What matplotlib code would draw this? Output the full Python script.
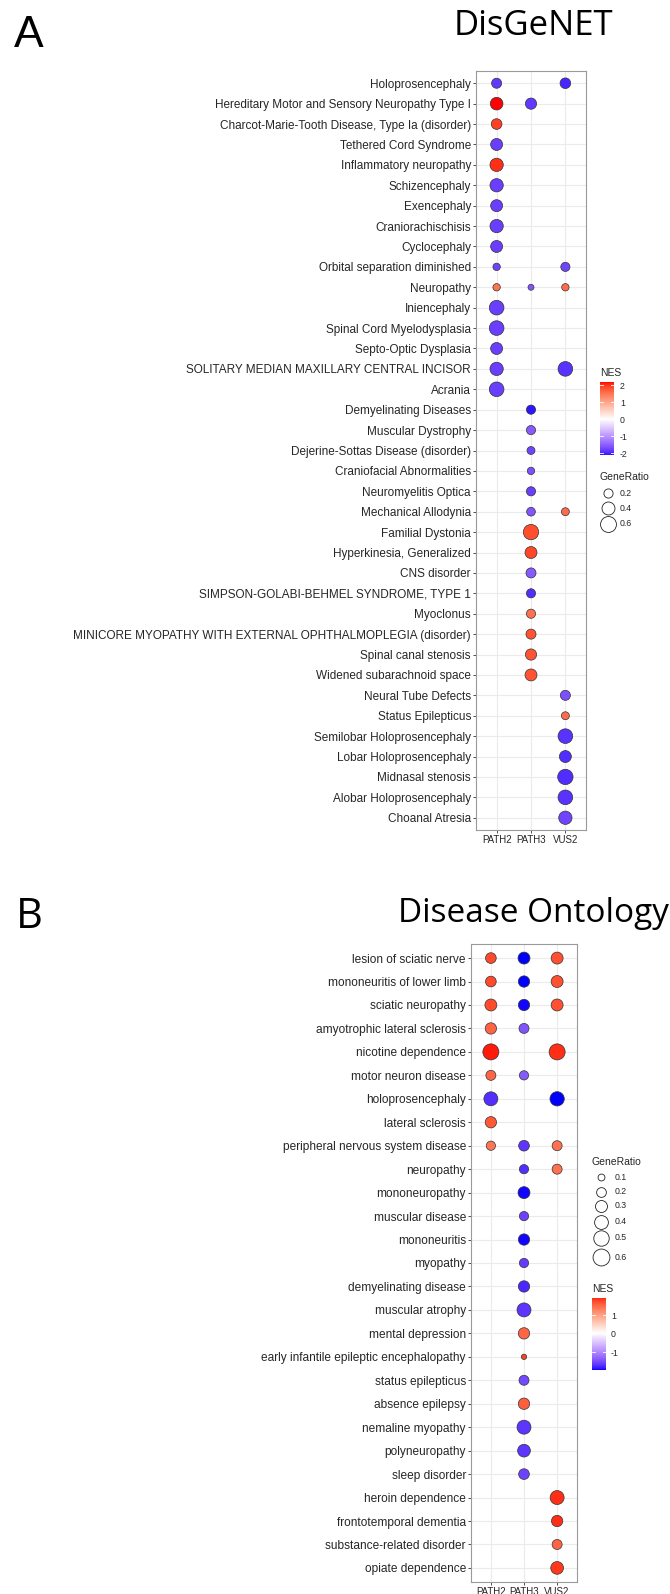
import numpy as np
import matplotlib
matplotlib.use("Agg")
import matplotlib.pyplot as plt
from matplotlib.colors import ListedColormap, Normalize

nan = np.nan

# ---------------- Panel A: DisGeNET ----------------
a_terms = [
    "Holoprosencephaly",
    "Hereditary Motor and Sensory Neuropathy Type I",
    "Charcot-Marie-Tooth Disease, Type Ia (disorder)",
    "Tethered Cord Syndrome",
    "Inflammatory neuropathy",
    "Schizencephaly",
    "Exencephaly",
    "Craniorachischisis",
    "Cyclocephaly",
    "Orbital separation diminished",
    "Neuropathy",
    "Iniencephaly",
    "Spinal Cord Myelodysplasia",
    "Septo-Optic Dysplasia",
    "SOLITARY MEDIAN MAXILLARY CENTRAL INCISOR",
    "Acrania",
    "Demyelinating Diseases",
    "Muscular Dystrophy",
    "Dejerine-Sottas Disease (disorder)",
    "Craniofacial Abnormalities",
    "Neuromyelitis Optica",
    "Mechanical Allodynia",
    "Familial Dystonia",
    "Hyperkinesia, Generalized",
    "CNS disorder",
    "SIMPSON-GOLABI-BEHMEL SYNDROME, TYPE 1",
    "Myoclonus",
    "MINICORE MYOPATHY WITH EXTERNAL OPHTHALMOPLEGIA (disorder)",
    "Spinal canal stenosis",
    "Widened subarachnoid space",
    "Neural Tube Defects",
    "Status Epilepticus",
    "Semilobar Holoprosencephaly",
    "Lobar Holoprosencephaly",
    "Midnasal stenosis",
    "Alobar Holoprosencephaly",
    "Choanal Atresia",
]
a_groups = ["PATH2", "PATH3", "VUS2"]

a_nes_path2 = [-1.85, 2.18, 1.95, -1.8, 2.05, -1.8, -1.8, -1.8, -1.8, -1.75, 1.5, -1.8, -1.8, -1.8, -1.8, -1.8,
               nan, nan, nan, nan, nan, nan, nan, nan, nan, nan, nan, nan, nan, nan, nan, nan, nan, nan, nan, nan, nan]
a_nes_path3 = [nan, -1.85, nan, nan, nan, nan, nan, nan, nan, nan, -1.6, nan, nan, nan, nan, nan,
               -2.1, -1.55, -1.75, -1.65, -1.8, -1.6, 1.85, 1.9, -1.55, -1.95, 1.55, 1.8, 1.8, 1.8,
               nan, nan, nan, nan, nan, nan, nan]
a_nes_vus2 = [-2.0, nan, nan, nan, nan, nan, nan, nan, nan, -1.75, 1.6, nan, nan, nan, -1.9, nan,
              nan, nan, nan, nan, nan, 1.6, nan, nan, nan, nan, nan, nan, nan, nan,
              -1.65, 1.6, -1.9, -1.95, -1.95, -1.9, -1.75]

a_ratio_path2 = [0.24, 0.38, 0.27, 0.34, 0.42, 0.42, 0.34, 0.42, 0.34, 0.13, 0.13, 0.51, 0.51, 0.34, 0.42, 0.51,
                 nan, nan, nan, nan, nan, nan, nan, nan, nan, nan, nan, nan, nan, nan, nan, nan, nan, nan, nan, nan, nan]
a_ratio_path3 = [nan, 0.30, nan, nan, nan, nan, nan, nan, nan, nan, 0.085, nan, nan, nan, nan, nan,
                 0.20, 0.20, 0.15, 0.13, 0.20, 0.18, 0.56, 0.34, 0.24, 0.20, 0.20, 0.24, 0.30, 0.34,
                 nan, nan, nan, nan, nan, nan, nan]
a_ratio_vus2 = [0.27, nan, nan, nan, nan, nan, nan, nan, nan, 0.20, 0.13, nan, nan, nan, 0.51, nan,
                nan, nan, nan, nan, nan, 0.15, nan, nan, nan, nan, nan, nan, nan, nan,
                0.24, 0.15, 0.51, 0.34, 0.56, 0.51, 0.42]
a_size_breaks = [0.2, 0.4, 0.6]
a_nes_ticks = [2, 1, 0, -1, -2]

# ---------------- Panel B: Disease Ontology ----------------
b_terms = [
    "lesion of sciatic nerve",
    "mononeuritis of lower limb",
    "sciatic neuropathy",
    "amyotrophic lateral sclerosis",
    "nicotine dependence",
    "motor neuron disease",
    "holoprosencephaly",
    "lateral sclerosis",
    "peripheral nervous system disease",
    "neuropathy",
    "mononeuropathy",
    "muscular disease",
    "mononeuritis",
    "myopathy",
    "demyelinating disease",
    "muscular atrophy",
    "mental depression",
    "early infantile epileptic encephalopathy",
    "status epilepticus",
    "absence epilepsy",
    "nemaline myopathy",
    "polyneuropathy",
    "sleep disorder",
    "heroin dependence",
    "frontotemporal dementia",
    "substance-related disorder",
    "opiate dependence",
]
b_groups = ["PATH2", "PATH3", "VUS2"]

b_nes_path2 = [1.7, 1.7, 1.7, 1.5, 1.92, 1.5, -1.75, 1.6, 1.35,
               nan, nan, nan, nan, nan, nan, nan, nan, nan, nan, nan, nan, nan, nan, nan, nan, nan, nan]
b_nes_path3 = [-1.97, -1.97, -1.95, -1.45, nan, -1.4, nan, nan, -1.7, -1.75, -1.95, -1.6, -1.95, -1.65,
               -1.8, -1.7, 1.5, 1.75, -1.55, 1.55, -1.7, -1.7, -1.6, nan, nan, nan, nan]
b_nes_vus2 = [1.65, 1.65, 1.65, nan, 1.85, nan, -1.97, nan, 1.4, 1.4,
              nan, nan, nan, nan, nan, nan, nan, nan, nan, nan, nan, nan, nan, 1.85, 1.85, 1.5, 1.8]

b_ratio_path2 = [0.24, 0.24, 0.30, 0.27, 0.54, 0.21, 0.41, 0.27, 0.18,
                 nan, nan, nan, nan, nan, nan, nan, nan, nan, nan, nan, nan, nan, nan, nan, nan, nan, nan]
b_ratio_path3 = [0.30, 0.27, 0.27, 0.21, nan, 0.18, nan, nan, 0.24, 0.18, 0.30, 0.18, 0.27, 0.18,
                 0.27, 0.41, 0.27, 0.06, 0.21, 0.27, 0.41, 0.34, 0.24, nan, nan, nan, nan]
b_ratio_vus2 = [0.30, 0.30, 0.30, nan, 0.54, nan, 0.43, nan, 0.21, 0.21,
                nan, nan, nan, nan, nan, nan, nan, nan, nan, nan, nan, nan, nan, 0.41, 0.27, 0.21, 0.34]
b_size_breaks = [0.1, 0.2, 0.3, 0.4, 0.5, 0.6]
b_nes_ticks = [1, 0, -1]

# ---------------- colour scale (ggplot gradient2 in Lab) ----------------
M_XYZ = np.array([[0.4124564, 0.3575761, 0.1804375],
                  [0.2126729, 0.7151522, 0.0721750],
                  [0.0193339, 0.1191920, 0.9503041]])
WP = np.array([0.95047, 1.0, 1.08883])


def srgb2lab(rgb):
    rgb = np.asarray(rgb, float)
    lin = np.where(rgb <= 0.04045, rgb / 12.92, ((rgb + 0.055) / 1.055) ** 2.4)
    t = (M_XYZ @ lin) / WP
    d = 6 / 29
    f = np.where(t > d ** 3, np.cbrt(t), t / (3 * d * d) + 4 / 29)
    return np.array([116 * f[1] - 16, 500 * (f[0] - f[1]), 200 * (f[1] - f[2])])


def lab2srgb(lab):
    L, a, b = lab
    fy = (L + 16) / 116
    f = np.array([fy + a / 500, fy, fy - b / 200])
    d = 6 / 29
    t = np.where(f > d, f ** 3, 3 * d * d * (f - 4 / 29))
    lin = np.clip(np.linalg.inv(M_XYZ) @ (t * WP), 0, 1)
    s = np.where(lin <= 0.0031308, 12.92 * lin, 1.055 * lin ** (1 / 2.4) - 0.055)
    return np.clip(s, 0, 1)


def gradient2(low, mid, high, n=512):
    lo, mi, hi = srgb2lab(low), srgb2lab(mid), srgb2lab(high)
    cols = []
    for u in np.linspace(0, 1, n):
        if u < 0.5:
            s = u / 0.5
            lab = lo + (mi - lo) * s
        else:
            s = (u - 0.5) / 0.5
            lab = mi + (hi - mi) * s
        cols.append(lab2srgb(lab))
    return ListedColormap(cols)


CMAP = gradient2([0, 0, 1], [1, 1, 1], [1, 0, 0])

# ---------------- figure ----------------
W, H, DPI = 670, 1594, 100
fig = plt.figure(figsize=(W / DPI, H / DPI), dpi=DPI)
plt.rcParams["font.family"] = ["Liberation Sans", "DejaVu Sans"]
TXT = "#262626"
PT = 72 / DPI  # points per pixel


def px_axes(l, t, r, b):
    return fig.add_axes([l / W, 1 - b / H, (r - l) / W, (b - t) / H])


def size_of(v, k):
    return (k * PT) ** 2 * np.asarray(v, float)


def draw_panel(rect, terms, groups, nes_cols, ratio_cols, k, ylab_fs, xlab_fs):
    ax = px_axes(*rect)
    n = len(terms)
    xs, ys, cs, ss = [], [], [], []
    for j, (nes, rat) in enumerate(zip(nes_cols, ratio_cols)):
        for i in range(n):
            if not np.isnan(nes[i]):
                xs.append(j)
                ys.append(i)
                cs.append(nes[i])
                ss.append(rat[i])
    cs = np.array(cs)
    M = np.max(np.abs(cs))
    norm = Normalize(-M, M)
    ax.scatter(xs, ys, c=cs, cmap=CMAP, norm=norm, s=size_of(ss, k),
               edgecolors="#333333", linewidths=0.5, zorder=3)
    ax.set_xlim(-0.6, len(groups) - 1 + 0.6)
    ax.set_ylim(n - 1 + 0.6, -0.6)
    ax.set_xticks(range(len(groups)))
    ax.set_xticklabels(groups, fontsize=xlab_fs, color=TXT)
    ax.set_yticks(range(n))
    ax.set_yticklabels(terms, fontsize=ylab_fs, color=TXT)
    ax.tick_params(length=3 * 72 / 100, width=0.6, color="#333333", pad=1.5)
    ax.grid(True, color="#EBEBEB", lw=0.8)
    ax.set_axisbelow(True)
    for sp in ax.spines.values():
        sp.set_color("#9a9a9a")
        sp.set_linewidth(0.8)
    return norm, cs.min(), cs.max()


def draw_cbar(rect, norm, dmin, dmax, ticks, fs, pad_px):
    cax = px_axes(*rect)
    grad = np.linspace(dmin, dmax, 300)[:, None]
    cax.imshow(grad, cmap=CMAP, norm=norm, aspect="auto", origin="lower",
               extent=[0, 1, dmin, dmax])
    cax.set_xlim(0, 1)
    cax.set_ylim(dmin, dmax)
    for t in ticks:
        cax.plot([0, 0.2], [t, t], color="white", lw=0.6)
        cax.plot([0.8, 1], [t, t], color="white", lw=0.6)
    cax.set_xticks([])
    cax.yaxis.tick_right()
    cax.set_yticks(ticks)
    cax.set_yticklabels([str(t) for t in ticks], fontsize=fs, color=TXT)
    cax.tick_params(axis="y", length=0, pad=pad_px * PT)
    for sp in cax.spines.values():
        sp.set_visible(False)


# Panel A
normA, aminv, amaxv = draw_panel((476, 71, 586, 830), a_terms, a_groups,
                                 [a_nes_path2, a_nes_path3, a_nes_vus2],
                                 [a_ratio_path2, a_ratio_path3, a_ratio_vus2],
                                 20.5, 8.5, 7.0)
# Panel B
normB, bminv, bmaxv = draw_panel((471, 944, 577, 1582), b_terms, b_groups,
                                 [b_nes_path2, b_nes_path3, b_nes_vus2],
                                 [b_ratio_path2, b_ratio_path3, b_ratio_vus2],
                                 21.8, 8.6, 7.0)

# overlay for legends / titles in pixel coordinates
ov = fig.add_axes([0, 0, 1, 1], zorder=-1)
ov.set_xlim(0, W)
ov.set_ylim(H, 0)
ov.axis("off")

# Titles
ov.text(14, 47, "A", fontsize=32, family="Liberation Sans", va="baseline", ha="left", color="black")
ov.text(454, 35, "DisGeNET", fontsize=25, family="Open Sans", va="baseline", ha="left", color="black")
ov.text(16, 928, "B", fontsize=30, family="Open Sans", va="baseline", ha="left", color="black")
ov.text(398, 922, "Disease Ontology", fontsize=24, family="Open Sans", va="baseline", ha="left", color="black")

# Legend A
ov.text(600, 373, "NES", fontsize=7.5, va="center", ha="left", color=TXT)
draw_cbar((600, 382, 614, 455), normA, aminv, amaxv, a_nes_ticks, 6.3, 6)
ov.text(600, 477, "GeneRatio", fontsize=7.5, va="center", ha="left", color=TXT)
for v, y in zip(a_size_breaks, [493, 508, 524]):
    ov.scatter([608], [y], s=size_of([v], 20.5), facecolors="white", edgecolors="#222222", linewidths=0.6)
    ov.text(620, y, f"{v:.1f}", fontsize=6.3, va="center", ha="left", color=TXT)

# Legend B
ov.text(592, 1162, "GeneRatio", fontsize=7.5, va="center", ha="left", color=TXT)
for v, y in zip(b_size_breaks, [1177, 1192, 1206, 1222, 1238, 1257]):
    ov.scatter([601], [y], s=size_of([v], 21.8), facecolors="white", edgecolors="#222222", linewidths=0.6)
    ov.text(615, y, f"{v:.1f}", fontsize=6.3, va="center", ha="left", color=TXT)
ov.text(592, 1289, "NES", fontsize=7.5, va="center", ha="left", color=TXT)
draw_cbar((592, 1298, 606, 1370), normB, bminv, bmaxv, b_nes_ticks, 6.3, 5)

fig.savefig("out.png", dpi=DPI, facecolor="white")
